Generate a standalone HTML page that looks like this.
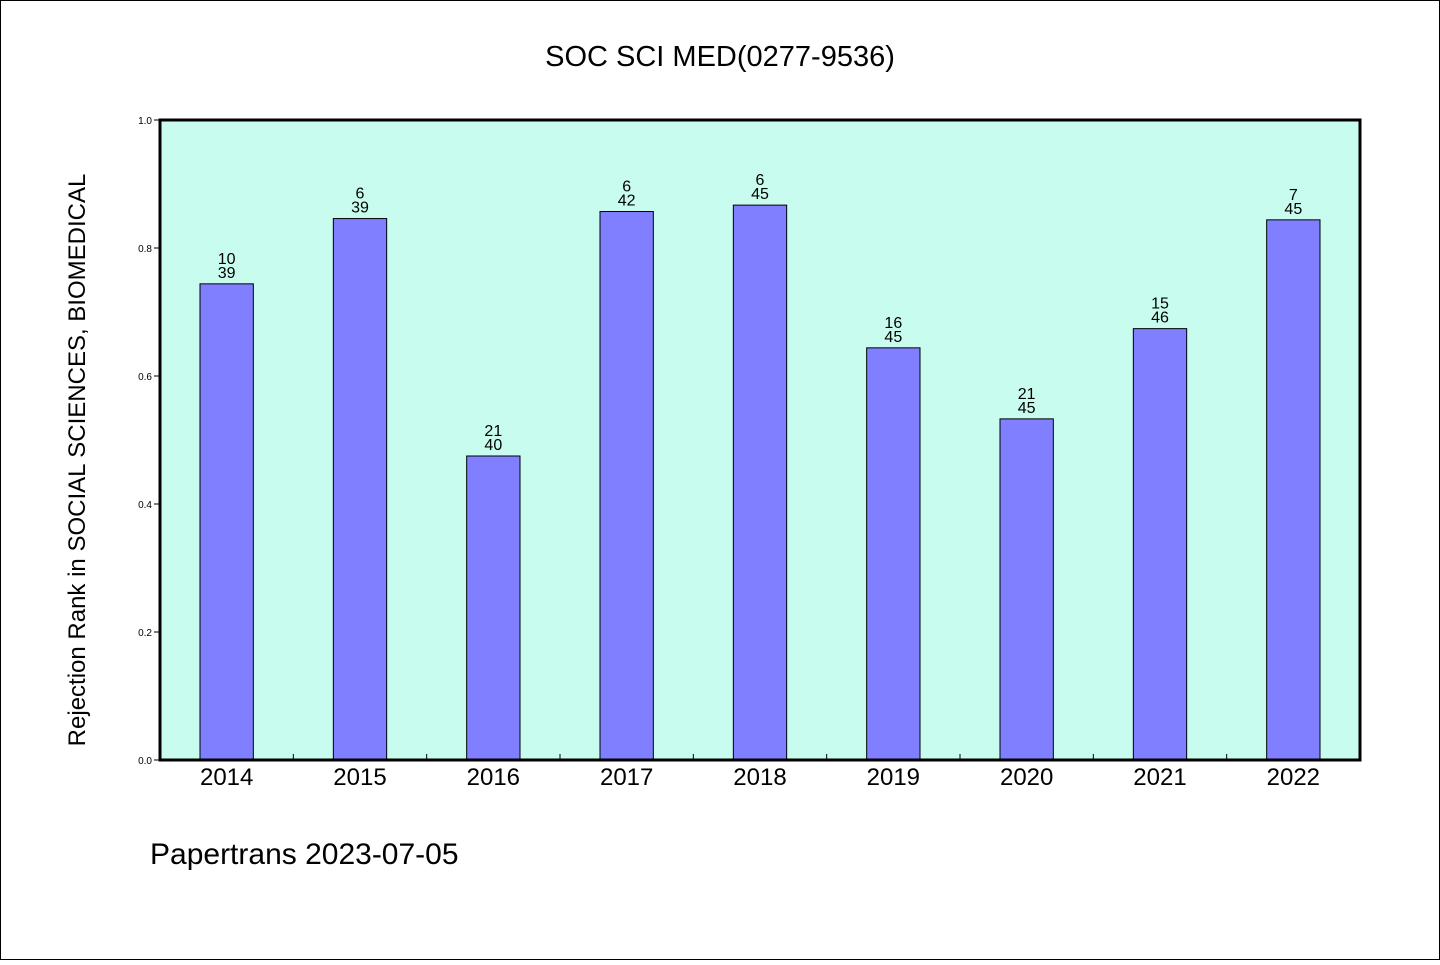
<!DOCTYPE html>
<html><head><meta charset="utf-8"><style>
body{margin:0;background:#fff}
svg text{font-family:"WenQuanYi Zen Hei","Liberation Sans",sans-serif;fill:#000}
</style></head><body>
<svg id="chart" width="1440" height="960" viewBox="0 0 1440 960">
<rect x="0.5" y="0.5" width="1439" height="959" fill="#fff" stroke="#000"/>
<text x="720" y="66" font-size="29" text-anchor="middle">SOC SCI MED(0277-9536)</text>
<rect x="160" y="120" width="1200" height="640" fill="#c8fcee"/>
<g id="bars"></g>
<g id="axes"></g>
<rect x="160" y="120" width="1200" height="640" fill="none" stroke="#000" stroke-width="3"/>
<text transform="translate(85,460) rotate(-90)" font-size="24" text-anchor="middle">Rejection Rank in SOCIAL SCIENCES, BIOMEDICAL</text>
<text x="150" y="864" font-size="30">Papertrans 2023-07-05</text>
</svg>
<script>
const categories=["2014","2015","2016","2017","2018","2019","2020","2021","2022"];
const values=[0.744,0.846,0.475,0.857,0.867,0.644,0.533,0.674,0.844];
const ranks=["10","6","21","6","6","16","21","15","7"];
const totals=["39","39","40","42","45","45","45","46","45"];
const yTicks=[0,0.2,0.4,0.6,0.8,1.0];
const yTickLabels=["0.0","0.2","0.4","0.6","0.8","1.0"];
const NS="http://www.w3.org/2000/svg";
const L=160,R=1360,T=120,B=760;
const xs=i=>L+(R-L)/categories.length*(i+0.5);
const ys=v=>B-(B-T)*v;
const step=(R-L)/categories.length, bw=step*0.4;
function mk(tag,attrs,parent,txt){const e=document.createElementNS(NS,tag);for(const k in attrs)e.setAttribute(k,attrs[k]);if(txt!==undefined)e.textContent=txt;parent.appendChild(e);return e;}
const bars=document.getElementById('bars'),axes=document.getElementById('axes');
categories.forEach((c,i)=>{
  const cx=xs(i),y=ys(values[i]);
  const r=mk('rect',{x:cx-bw/2,y:y,width:bw,height:B-y,fill:'#7f7fff',stroke:'#000','stroke-width':1},bars);
  
  
  const t1=mk('text',{x:cx,y:y-20,'font-size':16,'text-anchor':'middle'},bars,ranks[i]);
  
  
  const t2=mk('text',{x:cx,y:y-6,'font-size':16,'text-anchor':'middle'},bars,totals[i]);
  
  
  const xl=mk('text',{x:cx,y:785,'font-size':24,'text-anchor':'middle'},axes,c);
  
  
  if(i>0){const tk=mk('line',{x1:L+step*i,x2:L+step*i,y1:B,y2:B-6,stroke:'#000','stroke-width':1},axes);
  
  }
});
yTicks.forEach((v,i)=>{
  const y=ys(v);
  const tk=mk('line',{x1:L-6,x2:L,y1:y,y2:y,stroke:'#000','stroke-width':1},axes);
  
  
  const tl=mk('text',{x:L-8,y:y+4,'font-size':10,'text-anchor':'end'},axes,yTickLabels[i]);
  
  
});
</script>
</body></html>
